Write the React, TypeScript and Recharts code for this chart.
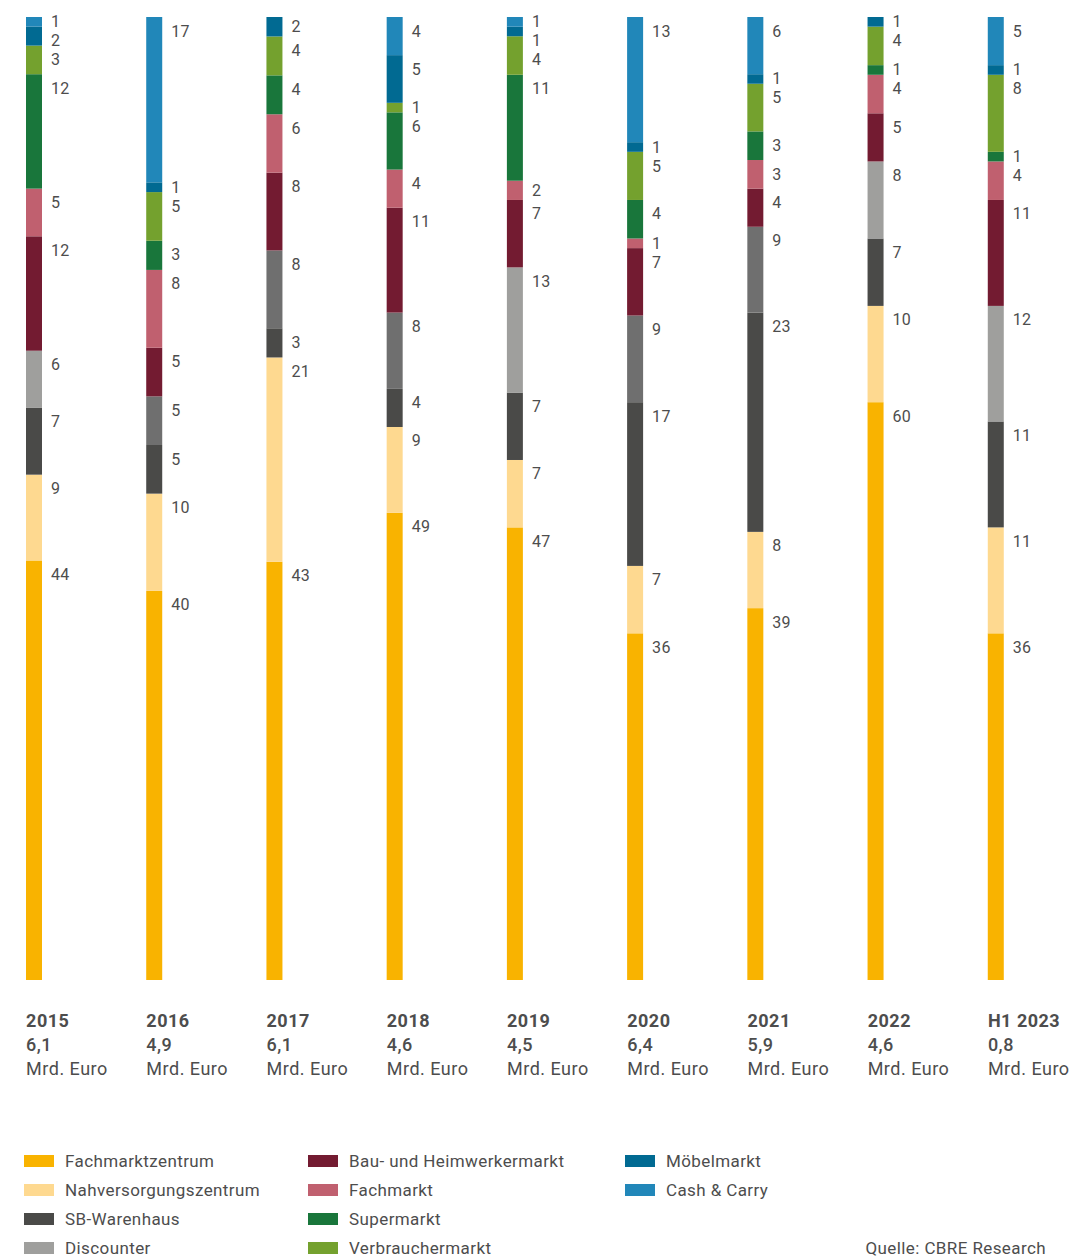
import React from 'react';
import { BarChart, Bar, XAxis, YAxis, Cell } from 'recharts';

// ---------- data ----------
const years = ['2015', '2016', '2017', '2018', '2019', '2020', '2021', '2022', 'H1 2023'];
const volumes = ['6,1', '4,9', '6,1', '4,6', '4,5', '6,4', '5,9', '4,6', '0,8'];

const fachmarktzentrum = [44, 40, 43, 49, 47, 36, 39, 60, 36];
const nahversorgungszentrum = [9, 10, 21, 9, 7, 7, 8, 10, 11];
const sbWarenhaus = [7, 5, 3, 4, 7, 17, 23, 7, 11];
const discounter = [6, 5, 8, 8, 13, 9, 9, 8, 12];
const bauHeimwerker = [12, 5, 8, 11, 7, 7, 4, 5, 11];
const fachmarkt = [5, 8, 6, 4, 2, 1, 3, 4, 4];
const supermarkt = [12, 3, 4, 6, 11, 4, 3, 1, 1];
const verbrauchermarkt = [3, 5, 4, 1, 4, 5, 5, 4, 8];
const moebelmarkt = [2, 1, 2, 5, 1, 1, 1, 1, 1];
const cashCarry = [1, 17, 0, 4, 1, 13, 6, 0, 5];

// ---------- styles ----------
const TEXT = '#4d4d4d';
const FONT = 'Roboto, "Open Sans", sans-serif';
const DISC_LIGHT = '#9f9f9d';
const DISC_MID = '#6f6f6f';
// the source uses two grey shades for the Discounter segment
const discounterShade = [DISC_LIGHT, DISC_MID, DISC_MID, DISC_MID, DISC_LIGHT, DISC_MID, DISC_MID, DISC_LIGHT, DISC_LIGHT];

const series = [
  { key: 'fmz', name: 'Fachmarktzentrum', values: fachmarktzentrum, color: '#f9b300' },
  { key: 'nvz', name: 'Nahversorgungszentrum', values: nahversorgungszentrum, color: '#fed990' },
  { key: 'sbw', name: 'SB-Warenhaus', values: sbWarenhaus, color: '#4a4a48' },
  { key: 'disc', name: 'Discounter', values: discounter, color: DISC_LIGHT },
  { key: 'bau', name: 'Bau- und Heimwerkermarkt', values: bauHeimwerker, color: '#731b31' },
  { key: 'fm', name: 'Fachmarkt', values: fachmarkt, color: '#c0606f' },
  { key: 'sm', name: 'Supermarkt', values: supermarkt, color: '#19763b' },
  { key: 'vm', name: 'Verbrauchermarkt', values: verbrauchermarkt, color: '#74a12e' },
  { key: 'moebel', name: 'Möbelmarkt', values: moebelmarkt, color: '#016a92' },
  { key: 'cc', name: 'Cash & Carry', values: cashCarry, color: '#2187b9' },
];

const data = years.map((year, i) => {
  const row: Record<string, any> = { year, volume: volumes[i] };
  series.forEach((s) => {
    row[s.key] = s.values[i];
  });
  return row;
});

// label position for series k in a column, derived from this segment's pixel geometry
function labelCenter(row: any, k: number, y: number, height: number): number | null {
  const v = row[series[k].key];
  if (!v || !height) return null;
  const px = height / v;
  let cumBelow = 0;
  for (let j = 0; j < k; j++) cumBelow += row[series[j].key] || 0;
  const barBottom = y + height + cumBelow * px;
  const cum: number[] = [];
  let acc = 0;
  series.forEach((s, j) => {
    acc += row[s.key] || 0;
    cum[j] = acc;
  });
  let prev = -Infinity;
  let result: number | null = null;
  for (let j = series.length - 1; j >= 0; j--) {
    const vj = row[series[j].key] || 0;
    if (!vj) continue;
    const top = barBottom - cum[j] * px;
    const h = vj * px;
    const pos = Math.max(top + Math.min(h / 2, 14), prev + 19);
    prev = pos;
    if (j === k) result = pos;
  }
  return result;
}

const makeShape = (k: number) => (props: any) => {
  const { x, y, width, height, payload, fill } = props;
  const row = payload || data[props.index];
  const v = row ? row[series[k].key] : 0;
  if (!v) return <g />;
  const cy = labelCenter(row, k, y, height);
  return (
    <g>
      <rect x={x} y={y} width={width} height={height} fill={fill} />
      {cy !== null && (
        <text
          x={x + width + 9}
          y={cy}
          dominantBaseline="central"
          fontSize={16}
          fontFamily={FONT}
          fill={TEXT}
          letterSpacing={0.3}
        >
          {v}
        </text>
      )}
    </g>
  );
};

const YearTick = (props: any) => {
  const { x, y, payload, index } = props;
  const tx = x - 8;
  return (
    <g>
      <text x={tx} y={y + 47} fontSize={18} fontWeight={700} fontFamily={FONT} fill={TEXT} letterSpacing={0.5}>
        {payload.value}
      </text>
      <text x={tx} y={y + 71} fontSize={18} fontWeight={500} fontFamily={FONT} fill={TEXT} letterSpacing={0.5}>
        {volumes[index]}
      </text>
      <text x={tx} y={y + 95} fontSize={18} fontWeight={400} fontFamily={FONT} fill={TEXT} letterSpacing={0.5}>
        Mrd. Euro
      </text>
    </g>
  );
};

const legendColumns = [series.slice(0, 4), series.slice(4, 8), series.slice(8)];
const legendColumnWidths = [284, 317, 200];

export default function App() {
  return (
    <div style={{ position: 'relative', width: 1083, height: 1251, fontFamily: FONT }}>
      <div style={{ position: 'absolute', left: -34, top: -8 }}>
        <BarChart
          width={1142}
          height={1100}
          data={data}
          stackOffset="expand"
          margin={{ top: 17, right: 60, left: 0, bottom: 0 }}
        >
          <XAxis
            dataKey="year"
            axisLine={false}
            tickLine={false}
            tickSize={0}
            tickMargin={0}
            height={120}
            interval={0}
            tick={<YearTick />}
          />
          <YAxis hide />
          {series.map((s, k) => (
            <Bar
              key={s.key}
              dataKey={s.key}
              name={s.name}
              stackId="a"
              fill={s.color}
              barSize={16}
              isAnimationActive={false}
              shape={makeShape(k)}
            >
              {s.key === 'disc'
                ? data.map((_, i) => <Cell key={i} fill={discounterShade[i]} />)
                : null}
            </Bar>
          ))}
        </BarChart>
      </div>
      <div
        style={{
          position: 'absolute',
          left: 16,
          top: 1138,
          display: 'flex',
          fontSize: 17,
          color: TEXT,
          letterSpacing: 0.4,
        }}
      >
        {legendColumns.map((col, ci) => (
          <div key={ci} style={{ display: 'flex', flexDirection: 'column', width: legendColumnWidths[ci] }}>
            {col.map((s) => (
              <div key={s.key} style={{ display: 'flex', alignItems: 'center', height: 29 }}>
                <span style={{ display: 'inline-block', width: 30, height: 12, background: s.color, marginRight: 11, flex: 'none' }} />
                <span style={{ whiteSpace: 'nowrap' }}>{s.name}</span>
              </div>
            ))}
          </div>
        ))}
      </div>
      <div
        style={{
          position: 'absolute',
          right: 45,
          top: 1225,
          height: 29,
          display: 'flex',
          alignItems: 'center',
          fontSize: 17,
          color: TEXT,
          whiteSpace: 'nowrap',
          letterSpacing: 0.4,
        }}
      >
        Quelle: CBRE Research
      </div>
    </div>
  );
}
